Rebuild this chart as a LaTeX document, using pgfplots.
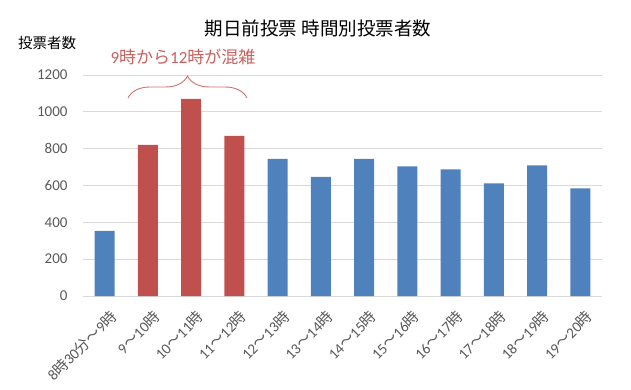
\documentclass[border=0pt]{standalone}
\usepackage{fontspec}
\setmainfont{Carlito}
\newfontfamily\cjk{Noto Sans CJK JP}
\newcommand\J[1]{{\cjk #1}}
\usepackage{pgfplots}
\pgfplotsset{compat=1.18}
\usetikzlibrary{decorations.pathreplacing}
\definecolor{barblue}{HTML}{4F81BD}
\definecolor{barred}{HTML}{C0504D}
\definecolor{gridgray}{HTML}{D9D9D9}
\definecolor{labgray}{HTML}{595959}
\begin{document}
\begin{tikzpicture}
\useasboundingbox (0pt,0pt) rectangle (631pt,389pt);
\begin{axis}[
  at={(83pt,93pt)}, anchor=south west,
  scale only axis, width=519pt, height=221pt,
  ymin=0, ymax=1200, xmin=-0.5, xmax=11.5,
  ytick={0,200,...,1200},
  xtick={0,...,11},
  xticklabels={{8\J{時}30\J{分～}9\J{時}},{9\J{～}10\J{時}},{10\J{～}11\J{時}},{11\J{～}12\J{時}},{12\J{～}13\J{時}},{13\J{～}14\J{時}},{14\J{～}15\J{時}},{15\J{～}16\J{時}},{16\J{～}17\J{時}},{17\J{～}18\J{時}},{18\J{～}19\J{時}},{19\J{～}20\J{時}}},
  ybar, bar width=20pt,
  ymajorgrids, grid style={draw=gridgray, line width=0.9pt},
  axis x line*=bottom, axis y line*=left,
  x axis line style={draw=gridgray, line width=0.9pt, -},
  y axis line style={draw=none},
  major tick length=0pt,
  /pgf/number format/assume math mode=true,
  /pgf/number format/1000 sep={},
  yticklabel style={font=\fontsize{15}{18}\selectfont, text=labgray, anchor=east, xshift=-12pt},
  xticklabel style={font=\fontsize{15}{17}\selectfont, text=labgray, rotate=45, anchor=north east, inner sep=0pt, xshift=-6pt, yshift=-12pt},
  clip=false,
]
\addplot[fill=barblue, draw=none, bar shift=0pt] coordinates {
 (0,353) (4,745) (5,647) (6,745) (7,704) (8,688) (9,612) (10,709) (11,585)};
\addplot[fill=barred, draw=none, bar shift=0pt] coordinates {
 (1,820) (2,1070) (3,870)};
\end{axis}
\node at (318pt,361pt) {\fontsize{18.5}{22}\selectfont\cjk 期日前投票\hspace{5pt}時間別投票者数};
\node at (47pt,346pt) {\fontsize{14.5}{17}\selectfont\cjk 投票者数};
\node[text=barred!90!white] at (183pt,332pt) {\fontsize{17}{20}\selectfont 9\J{時から}12\J{時が混雑}};
\draw[barred!80!white, line width=0.9pt, decorate, decoration={brace, amplitude=22pt, aspect=0.5}] (128pt,291pt) -- (247pt,291pt);
\end{tikzpicture}
\end{document}
